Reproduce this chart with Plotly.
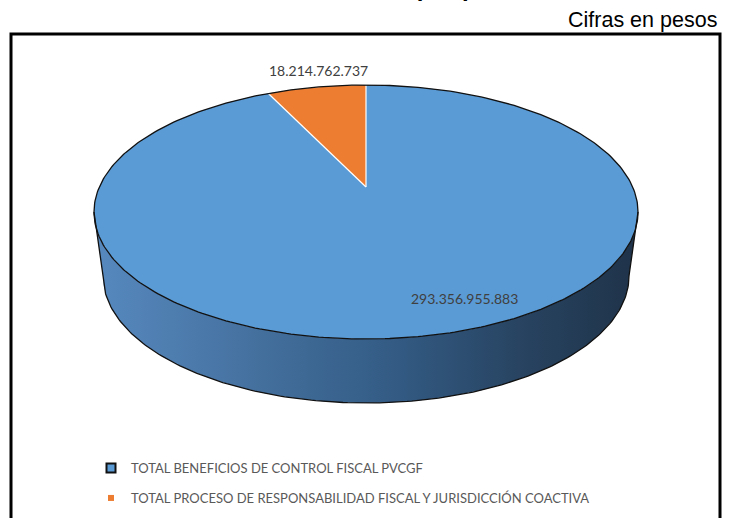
import numpy as np
import plotly.graph_objects as go

# ---- data ----
categories = ["TOTAL BENEFICIOS DE CONTROL FISCAL PVCGF",
              "TOTAL PROCESO DE RESPONSABILIDAD FISCAL Y JURISDICCIÓN COACTIVA"]
values = [293356955883, 18214762737]
value_labels = ["293.356.955.883", "18.214.762.737"]
colors_top = ["#5b9bd5", "#ed7d31"]
title_text = "Beneficios de control fiscal por proceso auditor"
subtitle_text = "Cifras en pesos"

# ---- geometry (style) ----
W, H = 732, 518
CX, CY = 366.0, 212.0      # top ellipse centre
RX, RY = 272.0, 127.0      # top ellipse radii
APEX_Y = 187.0             # projected pie centre (perspective)
DEPTH = 64.0
RXB = 263.0                # bottom ellipse horizontal radius (perspective)

def top_pt(t):
    t = np.radians(t)
    return CX + RX * np.cos(t), CY - RY * np.sin(t)

def bot_pt(t):
    t = np.radians(t)
    return CX + RXB * np.cos(t), CY + DEPTH - RY * np.sin(t)

total = float(sum(values))
# Excel: first slice starts at 12 o'clock, clockwise
angles = []
start = 90.0
for v in values:
    sweep = 360.0 * v / total
    angles.append((start, start - sweep))
    start -= sweep

fig = go.Figure()

# side wall (front half)
ts = np.linspace(180, 360, 181)
tx, ty = top_pt(ts)
bx, by = bot_pt(ts[::-1])
fig.add_trace(go.Scatter(
    x=np.concatenate([tx, bx, tx[:1]]), y=np.concatenate([ty, by, ty[:1]]),
    mode="lines", fill="toself", line=dict(width=0, color="rgba(0,0,0,0)"),
    fillgradient=dict(type="horizontal",
                      colorscale=[[0, "#5789bf"], [0.3, "#44709e"], [0.55, "#335b84"],
                                  [0.8, "#27425f"], [1, "#1f3349"]]),
    hoverinfo="skip", showlegend=False))

# top faces of slices
for (a0, a1), col, name in zip(angles, colors_top, categories):
    ts = np.linspace(a0, a1, max(int(abs(a1 - a0)) * 2, 4))
    px, py = top_pt(ts)
    fig.add_trace(go.Scatter(
        x=np.concatenate([[CX], px, [CX]]), y=np.concatenate([[APEX_Y], py, [APEX_Y]]),
        mode="lines", fill="toself", fillcolor=col, line=dict(width=0, color=col),
        hoverinfo="skip", showlegend=False, name=name))

# white radial separators
for a0, a1 in angles:
    px, py = top_pt(np.array([a0]))
    fig.add_trace(go.Scatter(x=[CX, px[0]], y=[APEX_Y, py[0]], mode="lines",
                             line=dict(color="white", width=1.2),
                             hoverinfo="skip", showlegend=False))

# outlines
ts = np.linspace(0, 360, 361)
ox, oy = top_pt(ts)
fig.add_trace(go.Scatter(x=ox, y=oy, mode="lines", line=dict(color="#111111", width=1.3),
                         hoverinfo="skip", showlegend=False))
ts = np.linspace(180, 360, 181)
bx, by = bot_pt(ts)
lx, ly = top_pt(np.array([180.0]))
rx_, ry_ = top_pt(np.array([360.0]))
fig.add_trace(go.Scatter(x=np.concatenate([lx, bx, rx_]), y=np.concatenate([ly, by, ry_]),
                         mode="lines", line=dict(color="#111111", width=1.3),
                         hoverinfo="skip", showlegend=False))

# legend entries
fig.add_trace(go.Scatter(x=[None], y=[None], mode="markers", name=categories[0],
                         marker=dict(symbol="square", size=9, color=colors_top[0],
                                     line=dict(color="#111111", width=2)),
                         legend="legend"))
fig.add_trace(go.Scatter(x=[None], y=[None], mode="markers", name=categories[1],
                         marker=dict(symbol="square", size=6, color=colors_top[1],
                                     line=dict(width=0)),
                         legend="legend2"))

# data labels
lab_font = dict(family="Lato", size=14, color="#404040")
fig.add_annotation(x=464, y=298, text=value_labels[0], showarrow=False, font=lab_font,
                   xref="x", yref="y")
fig.add_annotation(x=318, y=70, text=value_labels[1], showarrow=False, font=lab_font,
                   xref="x", yref="y")

# titles
fig.add_annotation(x=370, y=3, text="<b>" + title_text + "</b>", showarrow=False,
                   xref="x", yref="y", yanchor="bottom",
                   font=dict(family="Liberation Sans", size=24, color="#000000"))
fig.add_annotation(x=719, y=20, text=subtitle_text, showarrow=False, xref="x", yref="y",
                   xanchor="right",
                   font=dict(family="Liberation Sans", size=21.5, color="#000000"))

# frame
fig.add_shape(type="rect", x0=11, x1=720, y0=34, y1=560, xref="x", yref="y",
              line=dict(color="#000000", width=3), layer="above")

leg_font = dict(family="Lato", size=13, color="#595959")
fig.update_layout(
    width=W, height=H, margin=dict(l=0, r=0, t=0, b=0),
    paper_bgcolor="white", plot_bgcolor="white",
    xaxis=dict(range=[0, W], visible=False, fixedrange=True),
    yaxis=dict(range=[H, 0], visible=False, fixedrange=True),
    legend=dict(x=91 / W, y=1 - 468 / H, xanchor="left", yanchor="middle",
                font=leg_font, bgcolor="rgba(0,0,0,0)", itemwidth=30),
    legend2=dict(x=91 / W, y=1 - 498 / H, xanchor="left", yanchor="middle",
                 font=leg_font, bgcolor="rgba(0,0,0,0)", itemwidth=30),
)

fig.write_html("out.html", config={"displayModeBar": False},
               post_script="document.body.style.margin='0';document.body.style.overflow='hidden';")
